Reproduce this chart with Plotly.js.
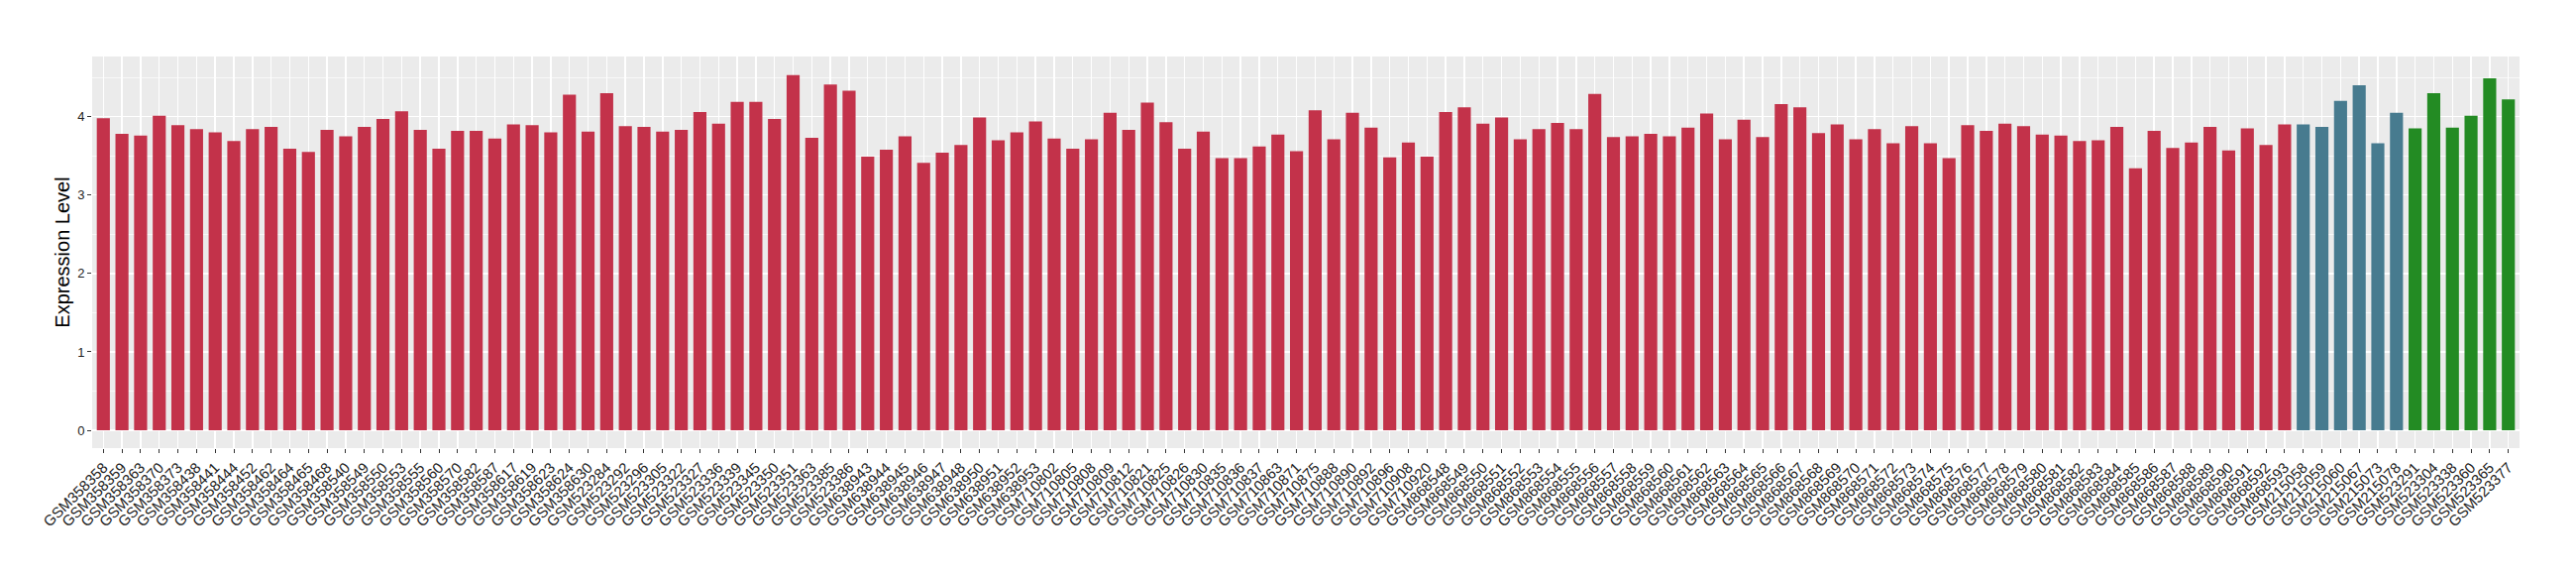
<!DOCTYPE html>
<html>
<head>
<meta charset="utf-8">
<script src="https://cdn.plot.ly/plotly-3.0.1.min.js"></script>
<style>html,body{margin:0;padding:0;background:#fff;}#chart{width:2600px;height:580px;}</style>
</head>
<body>
<div id="chart"></div>
<script>
// Group 1 (red)
const samplesRed = [
 "GSM358358","GSM358359","GSM358363","GSM358370","GSM358373","GSM358438","GSM358441","GSM358444","GSM358452","GSM358462",
 "GSM358464","GSM358465","GSM358468","GSM358540","GSM358549","GSM358550","GSM358553","GSM358555","GSM358560","GSM358570",
 "GSM358582","GSM358587","GSM358617","GSM358619","GSM358623","GSM358624","GSM358630",
 "GSM523284","GSM523292","GSM523296","GSM523305","GSM523322","GSM523327","GSM523336","GSM523339","GSM523345","GSM523350",
 "GSM523351","GSM523363","GSM523385","GSM523386",
 "GSM638943","GSM638944","GSM638945","GSM638946","GSM638947","GSM638948","GSM638950","GSM638951","GSM638952","GSM638953",
 "GSM710802","GSM710805","GSM710808","GSM710809","GSM710812","GSM710821","GSM710825","GSM710826","GSM710830","GSM710835",
 "GSM710836","GSM710837","GSM710863","GSM710871","GSM710875","GSM710888","GSM710890","GSM710892","GSM710896","GSM710908",
 "GSM710920",
 "GSM868548","GSM868549","GSM868550","GSM868551","GSM868552","GSM868553","GSM868554","GSM868555","GSM868556","GSM868557",
 "GSM868558","GSM868559","GSM868560","GSM868561","GSM868562","GSM868563","GSM868564","GSM868565","GSM868566","GSM868567",
 "GSM868568","GSM868569","GSM868570","GSM868571","GSM868572","GSM868573","GSM868574","GSM868575","GSM868576","GSM868577",
 "GSM868578","GSM868579","GSM868580","GSM868581","GSM868582","GSM868583","GSM868584","GSM868585","GSM868586","GSM868587",
 "GSM868588","GSM868589","GSM868590","GSM868591","GSM868592","GSM868593"
];
const valuesRed = [
 3.98,3.78,3.76,4.01,3.89,3.84,3.80,3.69,3.84,3.87,
 3.59,3.55,3.83,3.75,3.87,3.97,4.07,3.83,3.59,3.82,
 3.82,3.72,3.90,3.89,3.80,4.28,3.81,
 4.30,3.88,3.87,3.81,3.83,4.06,3.91,4.19,4.19,3.97,
 4.53,3.73,4.41,4.33,
 3.49,3.58,3.75,3.41,3.54,3.64,3.99,3.70,3.80,3.94,
 3.72,3.59,3.71,4.05,3.83,4.18,3.93,3.59,3.81,3.47,
 3.47,3.62,3.77,3.56,4.08,3.71,4.05,3.86,3.48,3.67,
 3.49,
 4.06,4.12,3.91,3.99,3.71,3.84,3.92,3.84,4.29,3.74,
 3.75,3.78,3.75,3.86,4.04,3.71,3.96,3.74,4.16,4.12,
 3.79,3.90,3.71,3.84,3.66,3.88,3.66,3.47,3.89,3.82,
 3.91,3.88,3.77,3.76,3.69,3.70,3.87,3.34,3.82,3.60,
 3.67,3.87,3.57,3.85,3.64,3.90
];
// Group 2 (blue)
const samplesBlue = ["GSM215058","GSM215059","GSM215060","GSM215067","GSM215073","GSM215078"];
const valuesBlue = [3.90,3.87,4.20,4.40,3.66,4.05];
// Group 3 (green)
const samplesGreen = ["GSM523291","GSM523304","GSM523338","GSM523360","GSM523365","GSM523377"];
const valuesGreen = [3.85,4.30,3.86,4.01,4.49,4.22];

const yTicks = [0,1,2,3,4];
const yTitle = "Expression Level";

const allSamples = samplesRed.concat(samplesBlue, samplesGreen);
const barW = 0.7;
function mk(x, y, color) {
  return {type:'bar', x:x, y:y, width:barW, marker:{color:color, line:{width:0}}, hoverinfo:'x+y', showlegend:false};
}
const data = [
  mk(samplesRed, valuesRed, '#C3324A'),
  mk(samplesBlue, valuesBlue, '#477B8F'),
  mk(samplesGreen, valuesGreen, '#238B23')
];
const fontFam = 'Liberation Sans, Arial, sans-serif';
const layout = {
  width:2600, height:580,
  margin:{l:92.7, r:57.3, t:56.7, b:128.3, pad:0},
  paper_bgcolor:'#FFFFFF', plot_bgcolor:'#EBEBEB',
  barmode:'overlay',
  font:{family:fontFam, color:'#333333', size:12},
  xaxis:{
    type:'category', categoryorder:'array', categoryarray:allSamples,
    range:[-0.6, allSamples.length - 0.4],
    tickmode:'linear', tick0:0, dtick:1,
    tickangle:-45, tickfont:{family:fontFam, size:15, color:'#222222'},
    ticks:'outside', ticklen:4, tickwidth:1, tickcolor:'#333333',
    showgrid:true, gridcolor:'#FFFFFF', gridwidth:1.4,
    zeroline:false, showline:false, automargin:false
  },
  yaxis:{
    range:[-0.227, 4.767],
    tickvals:yTicks, ticktext:yTicks.map(String),
    tickfont:{family:fontFam, size:13, color:'#222222'},
    ticks:'outside', ticklen:4, tickwidth:1, tickcolor:'#333333',
    showgrid:true, gridcolor:'#FFFFFF', gridwidth:1.4,
    minor:{dtick:0.5, tick0:0, showgrid:true, gridcolor:'#FFFFFF', gridwidth:0.7, ticks:''},
    zeroline:false, showline:false, automargin:false,
    title:{text:yTitle, font:{family:fontFam, size:20, color:'#000000'}, standoff:2}
  }
};
Plotly.newPlot('chart', data, layout, {displayModeBar:false, staticPlot:true});
</script>
</body>
</html>
